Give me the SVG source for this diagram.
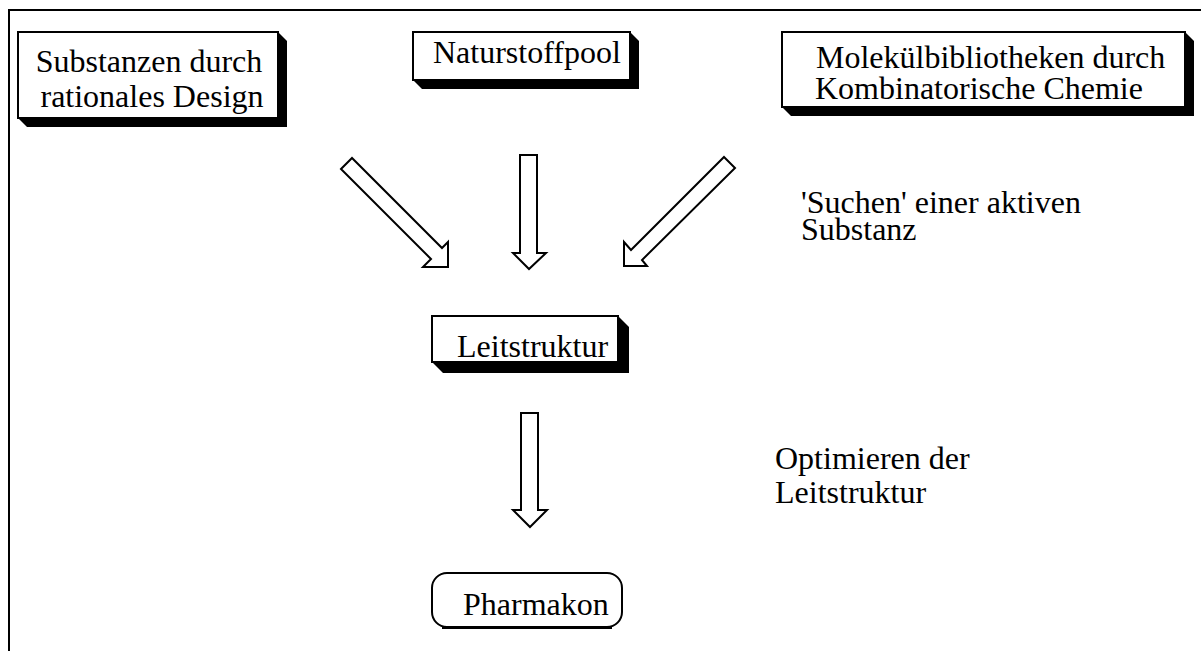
<svg xmlns="http://www.w3.org/2000/svg" width="1201" height="651" viewBox="0 0 1201 651">
<style>
.box{fill:#fff;stroke:#000;stroke-width:2}
.sh{fill:#000;stroke:none}
.t{font-family:"Liberation Serif","Times New Roman",serif;font-size:32px;fill:#000}
.arr{fill:#fff;stroke:#000;stroke-width:2;stroke-linejoin:miter}
</style>
<rect width="1201" height="651" fill="#fff"/>
<g id="frame" fill="none" stroke="#000" stroke-width="2">
<path d="M9,651 V10 H1201"/>
</g>
<g id="node-substanzen">
<polygon class="sh" points="278,32 287,41 287,127 27,127 18,118"/>
<rect class="box" x="18" y="32" width="260" height="86"/>
<text class="t" x="149" y="72" text-anchor="middle">Substanzen durch</text>
<text class="t" x="152" y="107" text-anchor="middle">rationales Design</text>
</g>
<g id="node-naturstoffpool">
<polygon class="sh" points="630,32 639,41 639,89 422,89 413,80"/>
<rect class="box" x="413" y="32" width="217" height="48"/>
<text class="t" x="433" y="63">Naturstoffpool</text>
</g>
<g id="node-molekuel">
<polygon class="sh" points="1185,32 1194,41 1194,116 791,116 782,107"/>
<rect class="box" x="782" y="32" width="403" height="75"/>
<text class="t" x="816" y="68">Molekülbibliotheken durch</text>
<text class="t" x="815" y="99">Kombinatorische Chemie</text>
</g>
<g id="node-leitstruktur">
<polygon class="sh" points="618,316 629,327 629,373 443,373 432,362"/>
<rect class="box" x="432" y="316" width="186" height="46"/>
<text class="t" x="457" y="357">Leitstruktur</text>
</g>
<g id="node-pharmakon">
<rect class="box" x="432" y="573" width="190" height="54" rx="15" ry="15" style="stroke-width:2"/>
<path d="M442,628 H612" stroke="#000" stroke-width="2"/>
<text class="t" x="463" y="615">Pharmakon</text>
</g>
<g id="connectors">
<polygon class="arr" points="341,169 352,158 442,248 448,242 448,267 423,267 431,259"/>
<polygon class="arr" points="520,155 537,155 537,253 546,253 529,269 513,253 520,253"/>
<polygon class="arr" points="724,157 735,168 642,260 647,266 624,266 624,242 631,250"/>
<polygon class="arr" points="521,413 538,413 538,510 547,510 530,527 513,510 521,510"/>
</g>
<g id="labels">
<text class="t" x="801" y="213">'Suchen' einer aktiven</text>
<text class="t" x="801" y="240">Substanz</text>
<text class="t" x="775" y="469">Optimieren der</text>
<text class="t" x="775" y="503">Leitstruktur</text>
</g>
</svg>
